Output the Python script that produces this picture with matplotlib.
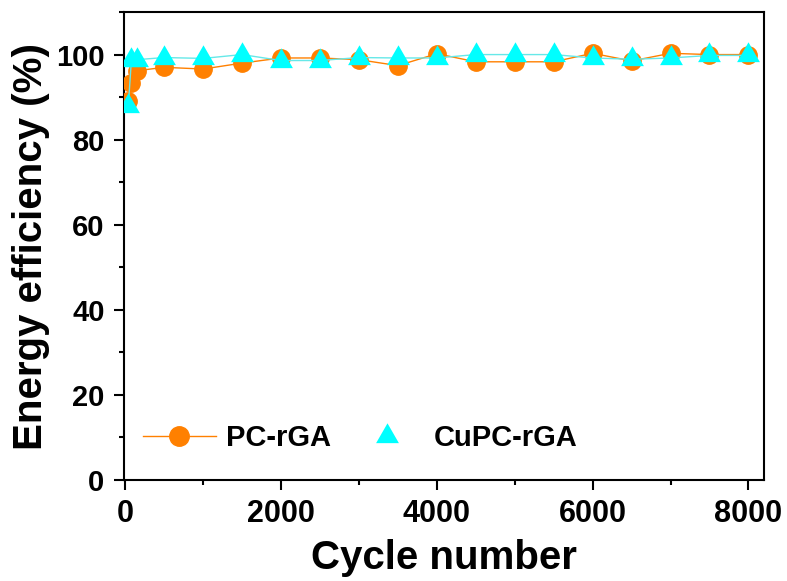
import matplotlib
matplotlib.use("Agg")
import matplotlib.pyplot as plt
from matplotlib.path import Path
from matplotlib.lines import Line2D
from matplotlib.ticker import MultipleLocator

plt.rcParams['font.family'] = ['Liberation Sans', 'DejaVu Sans']
plt.rcParams['font.weight'] = 'bold'

cycles = [40, 80, 150, 500, 1000, 1500, 2000, 2500, 3000, 3500, 4000,
          4500, 5000, 5500, 6000, 6500, 7000, 7500, 8000]
pc_rga = [89.1, 93.4, 96.2, 97.0, 96.6, 98.0, 99.2, 99.2, 98.8, 97.4, 100.2,
          98.3, 98.3, 98.3, 100.3, 98.5, 100.3, 100.0, 100.0]
cupc_rga = [88.0, 98.8, 98.8, 99.3, 99.1, 100.0, 98.6, 98.6, 99.3, 99.2, 99.2,
            100.0, 100.0, 100.0, 99.2, 98.9, 99.2, 99.8, 99.8]
labels = ['PC-rGA', 'CuPC-rGA']
xticks = [0, 2000, 4000, 6000, 8000]
yticks = [0, 20, 40, 60, 80, 100]

orange = '#FF8000'
cyan = '#00FFFF'

# triangle marker centred on its centroid (Origin style)
tri = Path([(0, 1.33), (-1.15, -0.67), (1.15, -0.67), (0, 1.33)],
           [Path.MOVETO, Path.LINETO, Path.LINETO, Path.CLOSEPOLY])

fig = plt.figure(figsize=(7.87, 5.81), dpi=100)
ax = fig.add_axes([0.1576, 0.1738, 0.9708 - 0.1576, 0.9793 - 0.1738])

ax.plot(cycles, pc_rga, color=orange, lw=1.0, marker='o', ms=12.5,
        mfc=orange, mec=orange, zorder=3)
ax.plot(cycles, cupc_rga, color='#66E8E8', lw=1.0, marker=tri, ms=19,
        mfc=cyan, mec=cyan, mew=0, zorder=4)

ax.set_xlim(-15, 8200)
ax.set_ylim(0, 110)
ax.set_xticks(xticks)
ax.set_yticks(yticks)
ax.xaxis.set_minor_locator(MultipleLocator(1000))
ax.yaxis.set_minor_locator(MultipleLocator(10))
ax.tick_params(which='major', direction='out', length=7, width=1.5,
               top=False, right=False)
ax.tick_params(which='minor', direction='out', length=3.6, width=1.5,
               top=False, right=False)
ax.tick_params(axis='x', which='major', labelsize=22, pad=7)
ax.tick_params(axis='y', which='major', labelsize=21, pad=7)
for lab in ax.get_xticklabels() + ax.get_yticklabels():
    lab.set_fontweight('bold')
for s in ax.spines.values():
    s.set_linewidth(1.5)

ax.set_xlabel('Cycle number', fontsize=29, fontweight='bold', labelpad=7)
ax.set_ylabel('Energy efficiency (%)', fontsize=29, fontweight='bold', labelpad=4)

h1 = Line2D([], [], color=orange, lw=1.0, marker='o', ms=14, mfc=orange, mec=orange)
h2 = Line2D([], [], color=cyan, lw=0, linestyle='none', marker=tri, ms=19,
            mfc=cyan, mec=cyan, mew=0)
leg = ax.legend([h1, h2], labels, loc='center left', bbox_to_anchor=(0.0297, 0.0897),
                ncol=2, frameon=False, handlelength=2.5,
                handletextpad=0.33, columnspacing=0.7, borderpad=0, borderaxespad=0,
                prop={'weight': 'bold', 'size': 21})

fig.savefig('out.png', dpi=100)
